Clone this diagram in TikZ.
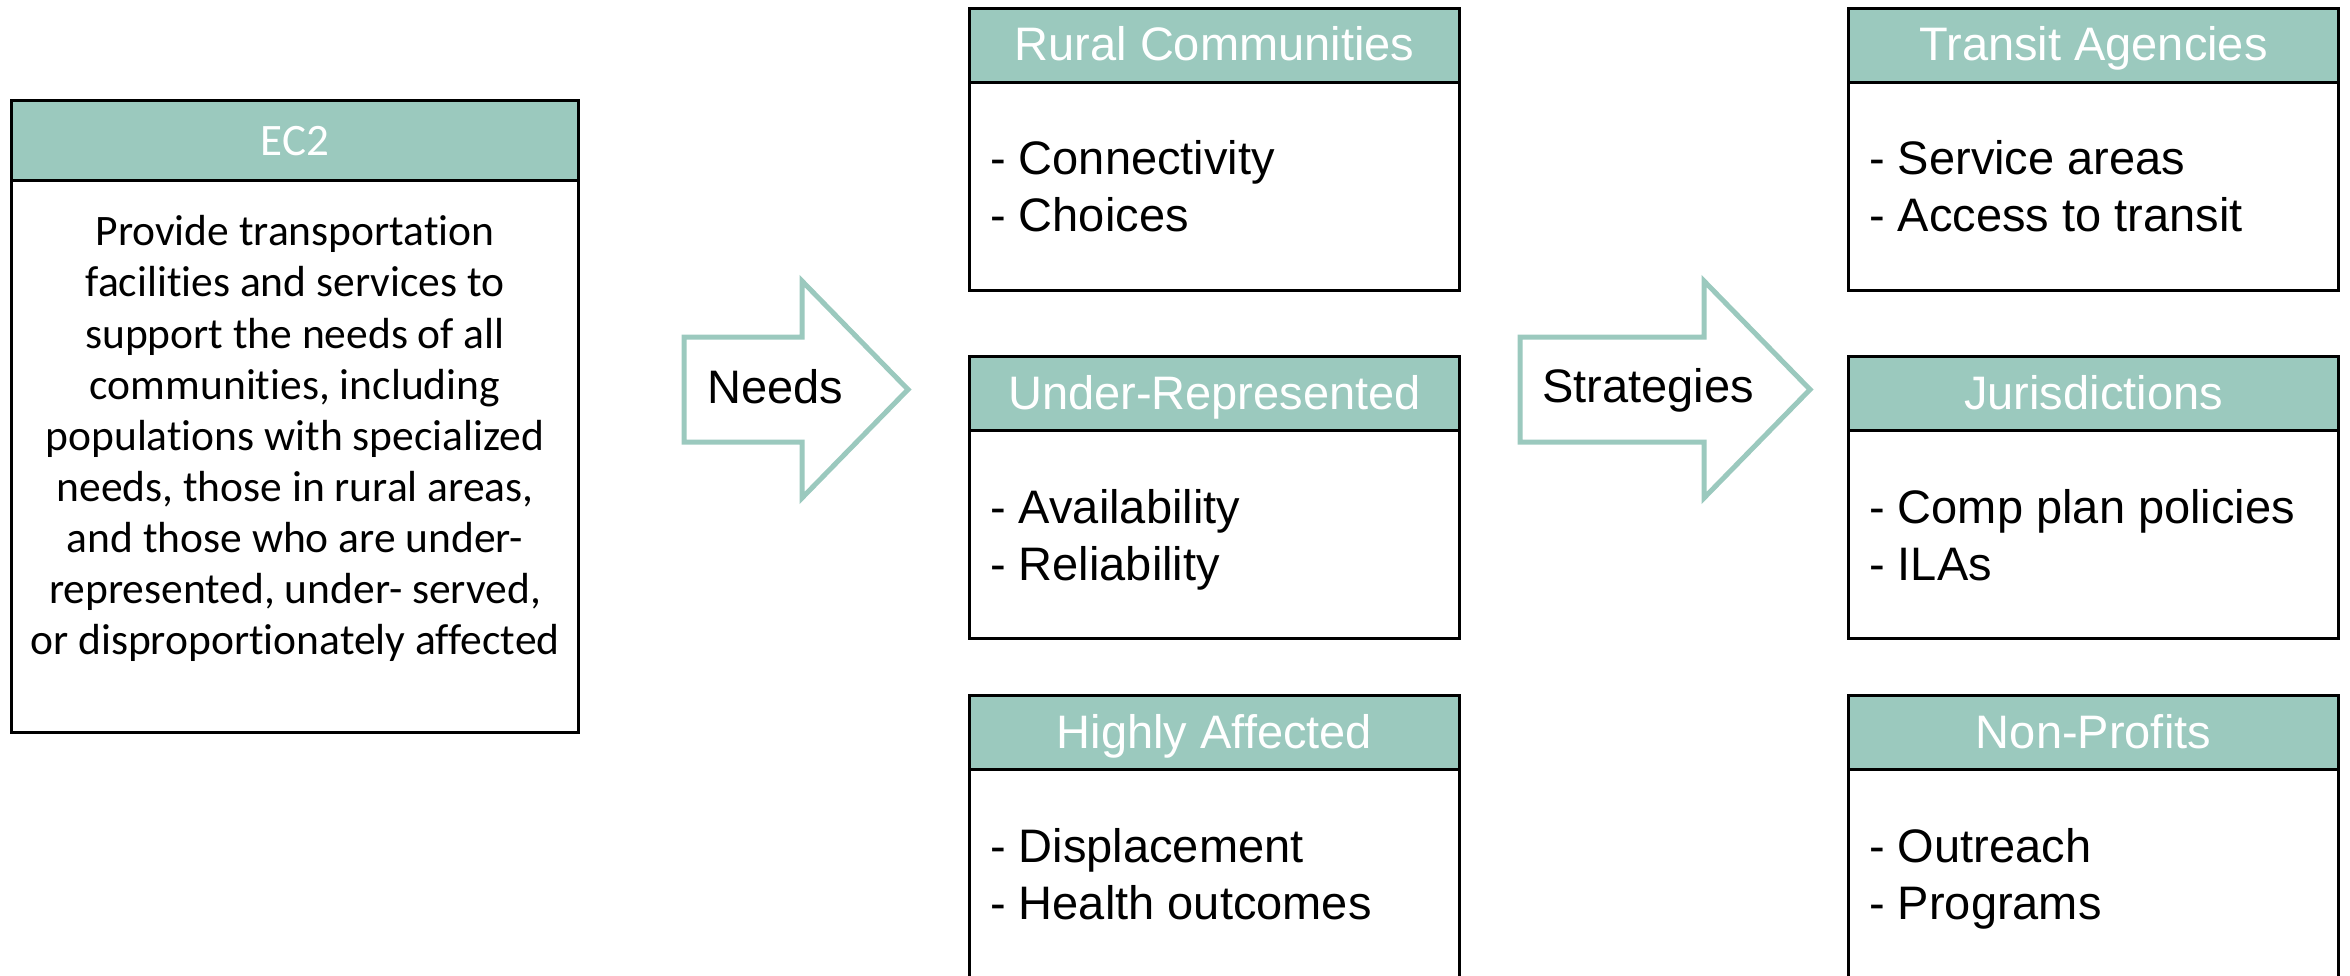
\documentclass[tikz,border=0pt]{standalone}
\usepackage{fontspec}
\setmainfont{Liberation Sans}
\newfontfamily\calib[Ligatures=NoCommon]{Carlito}
\usetikzlibrary{calc}
\definecolor{tealhdr}{RGB}{155,201,190}
\newcommand\mybox[6]{%
  \node[boxframe, minimum width=490pt, minimum height=#6] (#1) at (#2,#3) {};
  \node[hdrbox, minimum width=490pt, minimum height=74pt] (#1h) at (#2,#3) {};
  \node[hdrtext] (#1t) at ([yshift=-54pt]#1.north) {#4};
  \foreach \ln [count=\i] in {#5} {
    \node[bodytext] (#1l\i) at ([xshift=22pt,yshift=-168pt-57pt*(\i-1)]#1.north west) {\ln};
  }%
}
\begin{document}
\begin{tikzpicture}[x=1pt,y=-1pt,
  boxframe/.style={draw=black, line width=3pt, fill=white, anchor=north west, inner sep=0pt},
  hdrbox/.style={draw=black, line width=3pt, fill=tealhdr, anchor=north west, inner sep=0pt},
  hdrtext/.style={text=white, font=\fontsize{47}{56}\selectfont, inner sep=0pt, anchor=base},
  bodytext/.style={font=\fontsize{47}{56}\selectfont, inner sep=0pt, anchor=base west},
  ectext/.style={font=\calib\fontsize{43.5}{51}\selectfont, inner sep=0pt, anchor=base},
  ecthdr/.style={text=white, font=\calib\fontsize{45}{52}\selectfont, inner sep=0pt, anchor=base},
  blockarrow/.style={draw=tealhdr, line width=5pt, fill=white, line join=miter}]
\useasboundingbox (0,0) rectangle (2350,976);
\clip (0,0) rectangle (2350,976);

% EC2 box
\node[boxframe, minimum width=567pt, minimum height=632pt] (ec2) at (10,99) {};
\node[hdrbox, minimum width=567pt, minimum height=80pt] (ec2h) at (10,99) {};
\node[ecthdr] (ec2t) at ([yshift=-57pt]ec2.north) {EC2};
\foreach \ln [count=\i] in {Provide transportation, facilities and services to, support the needs of all, {communities, including}, populations with specialized, {needs, those in rural areas,}, and those who are under-, {represented, under- served,}, or disproportionately affected} {
  \node[ectext] (ec2l\i) at ([yshift=-147pt-51pt*(\i-1)]ec2.north) {\ln};
}

% Arrows
\draw[blockarrow] (684,337) -- (802,337) -- (802,281) -- (908,389.5) -- (802,498) -- (802,442) -- (684,442) -- cycle;
\node[bodytext] (needs) at (707,403) {Needs};
\draw[blockarrow] (1520,337) -- (1704,337) -- (1704,281) -- (1810,389.5) -- (1704,498) -- (1704,442) -- (1520,442) -- cycle;
\node[bodytext] (strat) at (1542,402) {Strategies};

% Middle column
\mybox{rc}{968}{7}{Rural Communities}{- Connectivity, - Choices}{282pt}
\mybox{ur}{968}{355}{Under-Represented}{- Availability, - Reliability}{282pt}
\mybox{ha}{968}{694}{Highly Affected}{- Displacement, - Health outcomes}{290pt}

% Right column
\mybox{ta}{1847}{7}{Transit Agencies}{- Service areas, - Access to transit}{282pt}
\mybox{ju}{1847}{355}{Jurisdictions}{- Comp plan policies, - ILAs}{282pt}
\mybox{np}{1847}{694}{Non-Profits}{- Outreach, - Programs}{290pt}
\end{tikzpicture}
\end{document}
